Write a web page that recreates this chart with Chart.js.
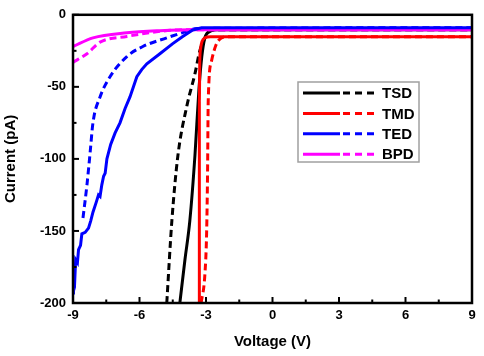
<!DOCTYPE html>
<html>
<head>
<meta charset="utf-8">
<script src="https://cdn.jsdelivr.net/npm/chart.js@4/dist/chart.umd.min.js"></script>
<style>
  html, body { margin: 0; padding: 0; background: #fff; }
</style>
</head>
<body>
<canvas id="ivChart" width="484" height="356"></canvas>
<script>
// Serien-Namen und Achsen
const seriesNames = ["TSD", "TMD", "TED", "BPD"];
const xTicks = [-9, -6, -3, 0, 3, 6, 9];
const yTicks = [-200, -150, -100, -50, 0];

const tsdSolidV = [-4.18, -3.95, -3.73, -3.5, -3.32, -3.19, -3.05, -2.83, -2.5, 9];
const tsdSolidI = [-200, -170, -143, -98, -52, -29, -16, -11.5, -10.4, -10.4];
const tsdDashV = [-4.77, -4.54, -4.27, -3.86, -3.5, -3.28, -3.05, -2.8, -2.4, 9];
const tsdDashI = [-200, -143, -98, -63, -41, -25, -16, -11, -10.4, -10.4];

const tmdSolidV = [-3.3, -3.3, -3.28, -3.24, -3.18, -3.05, -2.8, 9];
const tmdSolidI = [-200, -60, -32, -23, -18.5, -16, -15.3, -15.3];
const tmdDashV = [-3.22, -3.05, -2.97, -2.93, -2.9, -2.75, -2.55, -2.35, -2.1, 9];
const tmdDashI = [-200, -180, -150, -110, -60, -32, -21, -16.5, -15.3, -15.3];

const tedSolidV = [-9, -8.98, -8.92, -8.88, -8.8, -8.75, -8.66, -8.6, -8.45, -8.3, -8.2, -8.1,
  -7.95, -7.85, -7.78, -7.7, -7.62, -7.55, -7.47, -7.3, -7.1, -6.88, -6.65, -6.43, -6.12,
  -5.9, -5.67, -5.08, -4.5, -4.05, -3.6, -3.2, 9];
const tedSolidI = [-193, -180, -184, -170, -172, -163, -160, -152, -151, -148, -143, -137,
  -130, -125, -126, -118, -112, -110, -100, -90, -82, -75, -65, -57, -43,
  -38, -34, -27, -20, -15, -10.5, -9, -9];
const tedDashV = [-8.55, -8.37, -8.23, -8.1, -7.78, -7.33, -6.57, -5.85, -4.77, -3.87, -3.4, 9];
const tedDashI = [-141, -118, -96, -75, -57, -43, -29, -22, -16, -11.5, -9.5, -9];

const bpdSolidV = [-9, -8.1, -6.57, -5.08, -3.6, 9];
const bpdSolidI = [-22, -16, -12.5, -11, -10.3, -10.3];
const bpdDashV = [-9, -8.37, -7.78, -6.57, -5.08, -3.8, 9];
const bpdDashI = [-33, -27, -19, -15, -11.5, -10.3, -10.3];

// Farben pro Serie
const seriesColors = ["#000000", "#ff0000", "#0000ff", "#ff00ff"];
const fontFamily = "Arial, 'Liberation Sans', sans-serif";

function toPoints(vs, is) {
  return vs.map((v, i) => ({ x: v, y: is[i] }));
}

function makeDataset(label, color, vs, is, dashed, smooth) {
  return {
    label: label,
    data: toPoints(vs, is),
    borderColor: color,
    borderWidth: 3,
    borderDash: dashed ? [7, 4] : [],
    pointRadius: 0,
    fill: false,
    tension: 0,
    cubicInterpolationMode: smooth ? "monotone" : "default",
  };
}

// Rahmen und nach innen zeigende Ticks
const framePlugin = {
  id: "frame",
  afterDatasetsDraw(chart) {
    const { ctx, chartArea: a, scales } = chart;
    ctx.save();
    ctx.strokeStyle = "#000";
    ctx.lineWidth = 2.5;
    ctx.strokeRect(a.left, a.top, a.right - a.left, a.bottom - a.top);
    ctx.lineWidth = 2;
    const xs = scales.x.ticks.map((t) => t.value);
    xs.forEach((v, i) => {
      const px = scales.x.getPixelForValue(v);
      ctx.beginPath();
      ctx.moveTo(px, a.bottom);
      ctx.lineTo(px, a.bottom - 6);
      ctx.stroke();
      if (i < xs.length - 1) {
        const mx = scales.x.getPixelForValue((v + xs[i + 1]) / 2);
        ctx.beginPath();
        ctx.moveTo(mx, a.bottom);
        ctx.lineTo(mx, a.bottom - 3.5);
        ctx.stroke();
      }
    });
    const ys = scales.y.ticks.map((t) => t.value);
    ys.forEach((v, i) => {
      const py = scales.y.getPixelForValue(v);
      ctx.beginPath();
      ctx.moveTo(a.left, py);
      ctx.lineTo(a.left + 6, py);
      ctx.stroke();
      if (i < ys.length - 1) {
        const my = scales.y.getPixelForValue((v + ys[i + 1]) / 2);
        ctx.beginPath();
        ctx.moveTo(a.left, my);
        ctx.lineTo(a.left + 3.5, my);
        ctx.stroke();
      }
    });
    ctx.restore();
  },
};

// Legende im Diagramm (durchgezogen + gestrichelt)
const legendPlugin = {
  id: "innerLegend",
  afterDraw(chart) {
    const ctx = chart.ctx;
    const box = { left: 298, top: 82, right: 419, bottom: 162 };
    ctx.save();
    ctx.fillStyle = "#fff";
    ctx.fillRect(box.left, box.top, box.right - box.left, box.bottom - box.top);
    ctx.strokeStyle = "#a0a0a0";
    ctx.lineWidth = 1.5;
    ctx.strokeRect(box.left, box.top, box.right - box.left, box.bottom - box.top);
    ctx.font = "bold 15px " + fontFamily;
    ctx.textBaseline = "middle";
    seriesNames.forEach((name, i) => {
      const y = 93 + i * 20.4;
      ctx.strokeStyle = seriesColors[i];
      ctx.lineWidth = 3;
      ctx.setLineDash([]);
      ctx.beginPath();
      ctx.moveTo(303, y);
      ctx.lineTo(340, y);
      ctx.stroke();
      ctx.setLineDash([7, 5]);
      ctx.beginPath();
      ctx.moveTo(343, y);
      ctx.lineTo(376, y);
      ctx.stroke();
      ctx.setLineDash([]);
      ctx.fillStyle = "#000";
      ctx.fillText(name, 382, y + 1);
    });
    ctx.restore();
  },
};

const datasets = [
  makeDataset("TED", seriesColors[2], tedSolidV, tedSolidI, false, false),
  makeDataset("BPD", seriesColors[3], bpdSolidV, bpdSolidI, false, true),
  makeDataset("BPD", seriesColors[3], bpdDashV, bpdDashI, true, true),
  makeDataset("TED", seriesColors[2], tedDashV, tedDashI, true, true),
  makeDataset("TMD", seriesColors[1], tmdSolidV, tmdSolidI, false, true),
  makeDataset("TMD", seriesColors[1], tmdDashV, tmdDashI, true, true),
  makeDataset("TSD", seriesColors[0], tsdSolidV, tsdSolidI, false, true),
  makeDataset("TSD", seriesColors[0], tsdDashV, tsdDashI, true, true),
];

const config = {
  type: "line",
  data: { datasets: datasets },
  options: {
    responsive: false,
    animation: false,
    layout: { padding: { top: 10, right: 12, left: 0, bottom: 0 } },
    plugins: {
      legend: { display: false },
      tooltip: { enabled: false },
    },
    scales: {
      x: {
        type: "linear",
        min: xTicks[0],
        max: xTicks[xTicks.length - 1],
        afterBuildTicks: (scale) => {
          scale.ticks = xTicks.map((v) => ({ value: v }));
        },
        afterFit: (scale) => {
          scale.height = 53;
        },
        grid: { display: false, drawTicks: false },
        border: { display: false },
        ticks: {
          color: "#000",
          padding: 5,
          maxRotation: 0,
          autoSkip: false,
          font: { family: fontFamily, size: 13, weight: "bold" },
        },
        title: {
          display: true,
          text: "Voltage (V)",
          color: "#000",
          padding: { top: 4, bottom: 5 },
          font: { family: fontFamily, size: 15, weight: "bold" },
        },
      },
      y: {
        type: "linear",
        min: yTicks[0],
        max: yTicks[yTicks.length - 1],
        afterBuildTicks: (scale) => {
          scale.ticks = yTicks.map((v) => ({ value: v }));
        },
        afterFit: (scale) => {
          scale.width = 73;
        },
        grid: { display: false, drawTicks: false },
        border: { display: false },
        ticks: {
          color: "#000",
          padding: 7,
          font: { family: fontFamily, size: 13, weight: "bold" },
        },
        title: {
          display: true,
          text: "Current (pA)",
          color: "#000",
          padding: { top: 2, bottom: 2 },
          font: { family: fontFamily, size: 15, weight: "bold" },
        },
      },
    },
  },
  plugins: [framePlugin, legendPlugin],
};

const ctx = document.getElementById("ivChart").getContext("2d");
const myChart = new Chart(ctx, config);
</script>
</body>
</html>
